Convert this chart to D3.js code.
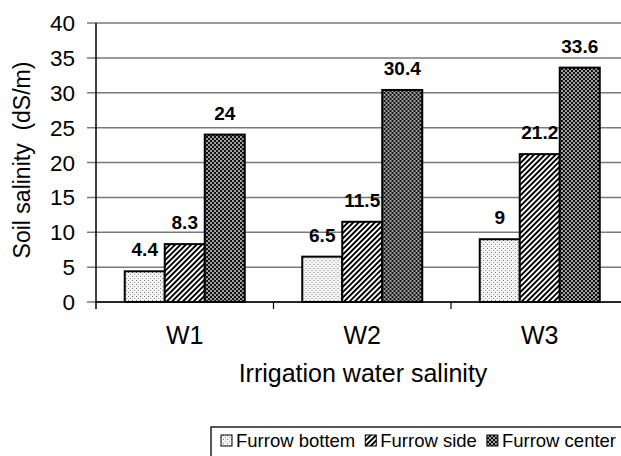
<!DOCTYPE html>
<html>
<head>
<meta charset="utf-8">
<script src="https://cdn.jsdelivr.net/npm/d3@7"></script>
<style>
  body { margin: 0; background: #fff; }
  text { font-family: "Liberation Sans", Arial, sans-serif; fill: #000; }
</style>
</head>
<body>
<svg id="svg"></svg>
<script>
// data
var categories = ["W1", "W2", "W3"];
var series = ["Furrow bottem", "Furrow side", "Furrow center"];
var bottomVals = [4.4, 6.5, 9];
var sideVals = [8.3, 11.5, 21.2];
var centerVals = [24, 30.4, 33.6];
var yTicks = [0, 5, 10, 15, 20, 25, 30, 35, 40];

var values = [bottomVals, sideVals, centerVals];
var patternIds = ["pBottom", "pSide", "pCenter"];

svg = d3.select("#svg")
          .attr("width", 621)
          .attr("height", 456);

// patterns
var defs = svg.append("defs");

var p1 = defs.append("pattern").attr("id", "pBottom")
          .attr("patternUnits", "userSpaceOnUse")
          .attr("width", 4).attr("height", 4);
p1.append("rect").attr("width", 4).attr("height", 4).attr("fill", "#f4f4f4");
p1.append("rect").attr("x", 0).attr("y", 0).attr("width", 1).attr("height", 1).attr("fill", "#777");
p1.append("rect").attr("x", 2).attr("y", 2).attr("width", 1).attr("height", 1).attr("fill", "#999");

var p2 = defs.append("pattern").attr("id", "pSide")
          .attr("patternUnits", "userSpaceOnUse")
          .attr("width", 3.8).attr("height", 10)
          .attr("patternTransform", "rotate(45)");
p2.append("rect").attr("width", 3.8).attr("height", 10).attr("fill", "#fff");
p2.append("rect").attr("width", 1.9).attr("height", 10).attr("fill", "#000");

var p3 = defs.append("pattern").attr("id", "pCenter")
          .attr("patternUnits", "userSpaceOnUse")
          .attr("width", 4).attr("height", 4);
p3.append("rect").attr("width", 4).attr("height", 4).attr("fill", "#111");
p3.append("circle").attr("cx", 1).attr("cy", 1).attr("r", 0.95).attr("fill", "#ddd");
p3.append("circle").attr("cx", 3).attr("cy", 3).attr("r", 0.95).attr("fill", "#ddd");

// scales
var x0 = d3.scaleBand().domain(categories).range([96, 628.5]);
var bw = x0.bandwidth();
var x1 = d3.scaleBand().domain(series).range([(bw - 120) / 2, (bw + 120) / 2]);
var y = d3.scaleLinear().domain([0, 40]).range([302, 23]);

// gridlines + y ticks
svg.append("g").selectAll("line").data(yTicks).enter()
  .append("line")
    .attr("x1", 87).attr("x2", 621)
    .attr("y1", d => y(d)).attr("y2", d => y(d))
    .attr("stroke", "#7a7a7a").attr("stroke-width", 1.5);

svg.append("g").selectAll("text").data(yTicks).enter()
  .append("text")
    .attr("x", 75)
    .attr("y", d => y(d) + 8)
    .attr("text-anchor", "end")
    .style("font-size", "22.5px")
    .text(d => d);

// bars
var groups = svg.append("g").selectAll("g").data(categories).enter()
  .append("g")
    .attr("transform", d => "translate(" + x0(d) + ",0)");

groups.selectAll("rect")
  .data((c, ci) => series.map((s, si) => ({s: s, si: si, v: values[si][ci]})))
  .enter().append("rect")
    .attr("x", d => x1(d.s))
    .attr("y", d => y(d.v))
    .attr("width", x1.bandwidth())
    .attr("height", d => y(0) - y(d.v))
    .attr("fill", d => "url(#" + patternIds[d.si] + ")")
    .attr("stroke", "#000").attr("stroke-width", 2);

groups.selectAll("text")
  .data((c, ci) => series.map((s, si) => ({s: s, si: si, v: values[si][ci]})))
  .enter().append("text")
    .attr("x", d => x1(d.s) + x1.bandwidth() / 2)
    .attr("y", d => y(d.v) - 15)
    .attr("text-anchor", "middle")
    .style("font-size", "19px").style("font-weight", "bold")
    .text(d => d.v);

// axes lines
svg.append("line").attr("x1", 96).attr("x2", 96).attr("y1", 23).attr("y2", 309)
  .attr("stroke", "#000").attr("stroke-width", 1.5);
svg.append("line").attr("x1", 96).attr("x2", 621).attr("y1", 302).attr("y2", 302)
  .attr("stroke", "#000").attr("stroke-width", 1.5);
svg.append("g").selectAll("line").data(categories.slice(1)).enter()
  .append("line")
    .attr("x1", d => x0(d)).attr("x2", d => x0(d))
    .attr("y1", 302).attr("y2", 309)
    .attr("stroke", "#000").attr("stroke-width", 1.2);

// category labels
svg.append("g").selectAll("text").data(categories).enter()
  .append("text")
    .attr("x", d => x0(d) + bw / 2)
    .attr("y", 344)
    .attr("text-anchor", "middle")
    .style("font-size", "25px")
    .text(d => d);

// axis titles
svg.append("text")
  .attr("x", 363).attr("y", 382)
  .attr("text-anchor", "middle")
  .style("font-size", "25px")
  .text("Irrigation water salinity");

svg.append("text")
  .attr("transform", "translate(30,160) rotate(-90)")
  .attr("text-anchor", "middle")
  .style("font-size", "23px")
  .style("white-space", "pre")
  .text("Soil salinity  (dS/m)");

// legend
var leg = svg.append("g").attr("transform", "translate(211,427)");
leg.append("rect")
  .attr("x", 0).attr("y", 0).attr("width", 420).attr("height", 40)
  .attr("fill", "#fff").attr("stroke", "#222").attr("stroke-width", 1.5);

var lx = 10;
series.forEach(function(s, i) {
  leg.append("rect")
    .attr("x", lx).attr("y", 8).attr("width", 11).attr("height", 11)
    .attr("fill", "url(#" + patternIds[i] + ")")
    .attr("stroke", "#000").attr("stroke-width", 1);
  var t = leg.append("text")
    .attr("x", lx + 15).attr("y", 20)
    .style("font-size", "18.5px")
    .text(s);
  lx += 15 + t.node().getComputedTextLength() + 10;
});
</script>
</body>
</html>
